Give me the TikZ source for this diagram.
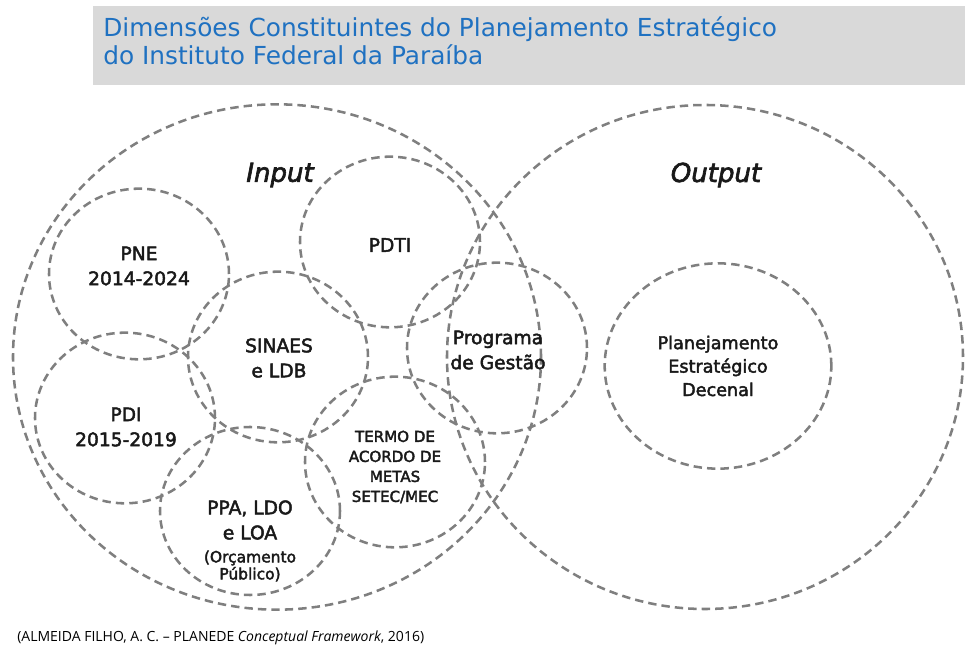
\documentclass[tikz,border=0pt]{standalone}
\usepackage{fontspec}
\setmainfont{DejaVu Sans}
\newfontfamily\dimfont[FakeBold=2.5]{DejaVu Sans}
\newfontfamily\notefont{Open Sans}
\usetikzlibrary{shapes.geometric}
\definecolor{titleblue}{HTML}{1F71C1}
\definecolor{bandgray}{HTML}{D9D9D9}
\definecolor{ringgray}{HTML}{7F7F7F}
\tikzset{
    ring/.style={draw=ringgray, line width=1.9pt, dash pattern=on 6.3pt off 3.8pt,
        ellipse, inner sep=0pt},
    smallring/.style={ring, minimum width=135pt, minimum height=128pt},
    dimtext/.style={align=center, inner sep=0pt, text=black!90,
        font=\dimfont\fontsize{14}{18.75}\selectfont},
    smalltext/.style={align=center, inner sep=0pt, text=black!90,
        font=\dimfont\fontsize{11.3}{15}\selectfont},
    sidetext/.style={inner sep=0pt, text=black!90,
        font=\dimfont\itshape\fontsize{19.5}{24}\selectfont}
}

\begin{document}
\begin{tikzpicture}[x=0.75pt, y=-0.75pt]
        \useasboundingbox (0,0) rectangle (965,648);
        \clip (0,0) rectangle (965,648);
        \fill [bandgray] (93,6) rectangle (965,85);
        \node [anchor=base west, inner sep=0pt, text=titleblue,
            font=\fontsize{18.6}{21}\selectfont] (title1) at (103,37)
            {Dimensões Constituintes do Planejamento Estratégico};
        \node [anchor=base west, inner sep=0pt, text=titleblue,
            font=\fontsize{18.6}{21}\selectfont] (title2) at (103,65)
            {do Instituto Federal da Paraíba};

        \node [ring, minimum width=396pt, minimum height=379pt] (input) at (277,357) {};
        \node [ring, minimum width=387pt, minimum height=378pt] (output) at (705,357) {};
        \node [smallring] (pne) at (139,274) {};
        \node [smallring] (pdti) at (390,242) {};
        \node [smallring] (sinaes) at (278,357) {};
        \node [smallring] (pdi) at (125,418) {};
        \node [smallring, minimum height=126pt] (ppa) at (250,511) {};
        \node [smallring] (termo) at (395,462) {};
        \node [smallring] (gestao) at (497,348) {};
        \node [ring, minimum width=170pt, minimum height=154pt] (plano) at (718,366) {};

        \node [sidetext] (inputlabel) at (280,175) {Input};
        \node [sidetext] (outputlabel) at (716,175) {Output};

        \node [dimtext] (pnetext) at (139,266) {PNE\\2014-2024};
        \node [dimtext] (pdtitext) at (390,245) {PDTI};
        \node [dimtext] (sinaestext) at (279,358) {SINAES\\e LDB};
        \node [dimtext] (pditext) at (126,427) {PDI\\2015-2019};
        \node [dimtext] (ppatext) at (250,520) {PPA, LDO\\e LOA};
        \node [smalltext, font=\dimfont\fontsize{11.6}{12.75}\selectfont] (ppanote)
            at (250,566) {(Orçamento\\Público)};
        \node [smalltext] (termotext) at (395,467)
            {TERMO DE\\ACORDO DE\\METAS\\SETEC/MEC};
        \node [dimtext] (gestaotext) at (498,350) {Programa\\de Gestão};
        \node [dimtext, font=\dimfont\fontsize{13.2}{17.6}\selectfont] (planotext)
            at (718,366) {Planejamento\\Estratégico\\Decenal};

        \node [anchor=base west, inner sep=0pt, font=\notefont\fontsize{10.5}{12}\selectfont]
            (source) at (17,642)
            {(ALMEIDA FILHO, A. C. – PLANEDE \textit{Conceptual Framework}, 2016)};
\end{tikzpicture}
\end{document}
